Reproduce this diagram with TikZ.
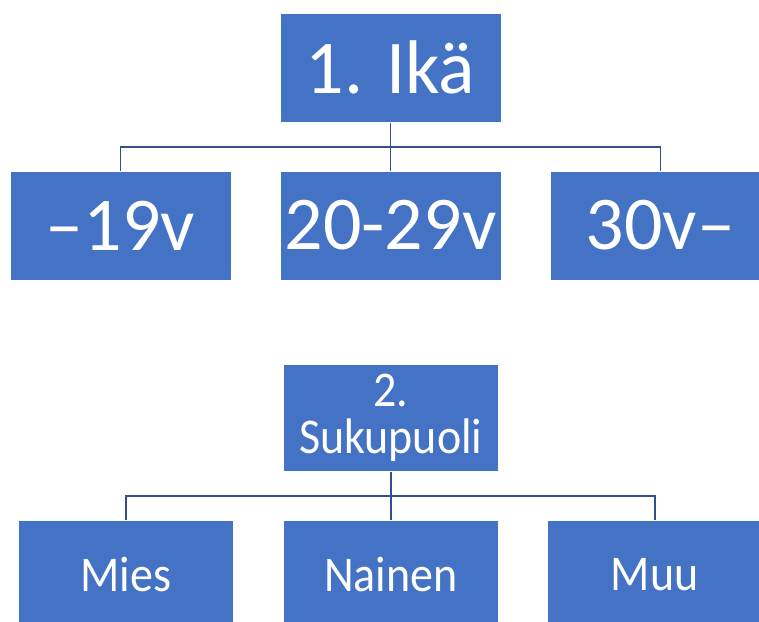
\documentclass[tikz,border=0pt]{standalone}
\usepackage{fontspec}
\setmainfont{Carlito}
\newfontfamily\narrowfont[FakeStretch=0.92]{Carlito}
\usetikzlibrary{calc}
\definecolor{boxblue}{HTML}{4472C4}
\definecolor{lineblue}{HTML}{2F528F}
\tikzset{
  box/.style={rectangle, fill=boxblue, draw=white, line width=0.6pt, text=white, inner sep=0pt, align=center},
  bigbox/.style={box, minimum width=221pt, minimum height=109pt, font=\fontsize{76}{80}\selectfont},
  smallbox/.style={box, minimum width=215.5pt, minimum height=107pt, font=\narrowfont\fontsize{50}{47}\selectfont},
  conn/.style={draw=lineblue, line width=1.6pt}
}
\begin{document}
\begin{tikzpicture}[x=1pt,y=-1pt]
\clip (0,0) rectangle (759,621);
% top tree
\node[bigbox] (ika) at (390.5,67.9) {1. Ikä};
\node[bigbox] (a1) at (120.5,225.5) {–19v};
\node[bigbox] (a2) at (390.5,225.5) {20-29v};
\node[bigbox] (a3) at (660.5,225.5) {30v–};
\coordinate (barA) at ($(ika.south)!0.5!(a2.north)$);
\draw[conn] (ika.south) -- (a2.north);
\draw[conn] (a1.north) |- (barA) -| (a3.north);
% bottom tree
\node[smallbox] (suku) at (390.75,418.2) {2.\\Sukupuoli};
\node[smallbox] (g1) at (126,574.2) {Mies};
\node[smallbox] (g2) at (390.75,574.2) {Nainen};
\node[smallbox] (g3) at (654.8,574.2) {Muu};
\coordinate (barB) at ($(suku.south)!0.5!(g2.north)$);
\draw[conn] (suku.south) -- (g2.north);
\draw[conn] (g1.north) |- (barB) -| (g3.north);
\end{tikzpicture}
\end{document}
